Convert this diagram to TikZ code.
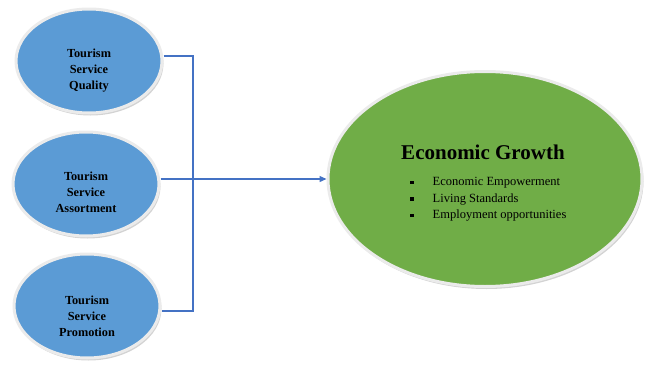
\documentclass[tikz,border=0pt]{standalone}
\usepackage{fontspec}
\setmainfont{Liberation Serif}
\usepackage{tikz}
\usetikzlibrary{arrows.meta,%
                shapes,shadows,positioning}

\definecolor{factorblue}{HTML}{5B9BD5}
\definecolor{growthgreen}{HTML}{70AD47}
\definecolor{linkblue}{HTML}{4472C4}

\tikzset{
  oval/.style={ellipse, draw=white!92!black, line width=3pt, inner sep=0pt,
               drop shadow={shadow xshift=1.5pt, shadow yshift=-2.5pt, opacity=0.35}},
  factor/.style={oval, fill=factorblue, minimum width=146pt, minimum height=104pt},
  factortext/.style={align=center, font=\fontsize{12.3}{16}\selectfont\bfseries},
  link/.style={draw=linkblue, line width=1.3pt},
  bul/.style={inner sep=0pt, minimum size=3.5pt, fill=black}
}
\newcommand{\bsq}{\tikz[baseline=-3.5pt]\node[bul]{};}

\begin{document}
\begin{tikzpicture}[x=1pt,y=-1pt]
\useasboundingbox (0,0) rectangle (646,367);
% three factors on the left
\node[factor] (q) at (89,61) {};
\node[factor] (a) at (86,184) {};
\node[factor] (p) at (87,306) {};
\node[factortext] (qlab) at (89,71) {Tourism\\Service\\Quality};
\node[factortext] (alab) at (86,192) {Tourism\\Service\\Assortment};
\node[factortext] (plab) at (87,316) {Tourism\\Service\\Promotion};
% outcome
\node[oval, fill=growthgreen, minimum width=314pt, minimum height=215pt] (g) at (485,179) {};
\node[font=\fontsize{21}{24}\selectfont\bfseries] (gt) at (483,152) {Economic Growth};
\node[anchor=west, inner sep=0pt, font=\fontsize{12.5}{16.5}\selectfont] (gl) at (410,199)
  {\begin{tabular}{@{}l@{\hspace{19pt}}l@{}}
   \bsq & Economic Empowerment\\
   \bsq & Living Standards\\
   \bsq & Employment opportunities
   \end{tabular}};
% connectors
\coordinate (jt) at (193,56);
\coordinate (jb) at (193,311);
\draw[link] ([yshift=5pt]q.east) -- (jt) -- (jb) -- ([yshift=-5pt]p.east);
\draw[link, -{Triangle[length=7pt,width=6pt]}] ([yshift=5pt]a.east) -- (g.west);
\end{tikzpicture}
\end{document}
